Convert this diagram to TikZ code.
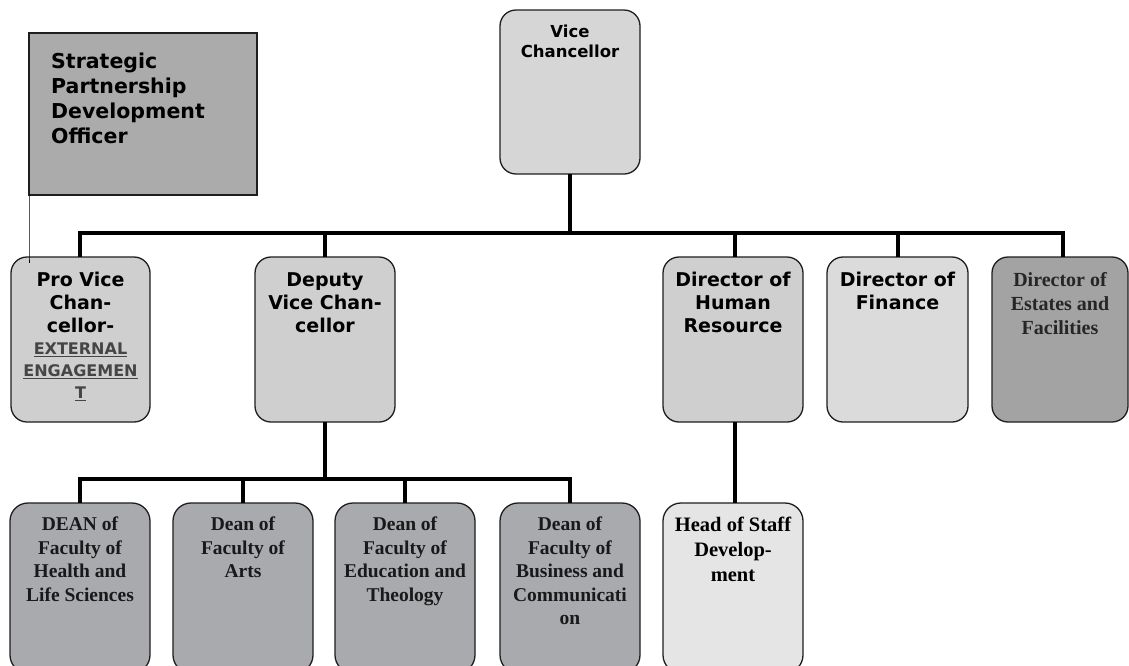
\documentclass[tikz,border=0pt]{standalone}
\usepackage{fontspec}
\newfontfamily\vsans{DejaVu Sans}
\newfontfamily\tms{Liberation Serif}
\definecolor{cVC}{HTML}{D6D6D6}
\definecolor{cStrat}{HTML}{ABABAB}
\definecolor{cRow}{HTML}{CFCFCF}
\definecolor{cFin}{HTML}{DBDBDB}
\definecolor{cEst}{HTML}{A3A3A3}
\definecolor{cDean}{HTML}{A9AAAE}
\definecolor{cHead}{HTML}{E5E5E5}
\definecolor{cEdge}{HTML}{1E1E1E}
\definecolor{cUnder}{HTML}{454545}
\tikzset{
  box/.style={draw=cEdge, line width=1.3pt, rounded corners=16pt, anchor=north west, inner sep=0pt, outer sep=0pt},
  sqbox/.style={draw=cEdge, line width=1.3pt, anchor=north west, inner sep=0pt, outer sep=0pt},
  conn/.style={line width=4pt, black},
  thin/.style={line width=1pt, black},
  sanslbl/.style={anchor=north, inner sep=0pt, align=center, font=\vsans\bfseries\fontsize{19}{23}\selectfont},
  seriflbl/.style={anchor=north, inner sep=0pt, align=center, font=\tms\bfseries\fontsize{20}{24}\selectfont},
  deanlbl/.style={anchor=north, inner sep=0pt, align=center, font=\tms\bfseries\fontsize{19.5}{23.5}\selectfont, text=black!90},
}
\begin{document}
\begin{tikzpicture}[x=1pt, y=-1pt]
\useasboundingbox (0,0) rectangle (1129,665);
\clip (0,0) rectangle (1129,665);
\fill[white] (0,0) rectangle (1129,665);

\coordinate (barL) at (80,233);
\coordinate (barR) at (1063,233);
\coordinate (dbarL) at (80,479);
\coordinate (dbarR) at (570,479);

% boxes
\node[box, fill=cVC, minimum width=140pt, minimum height=164pt] (vc) at (500,10) {};
\node[sqbox, fill=cStrat, minimum width=228pt, minimum height=162pt] (sp) at (29,33) {};

\node[box, fill=cRow, minimum width=139pt, minimum height=165pt] (pvc) at (11,257) {};
\node[box, fill=cRow, minimum width=140pt, minimum height=165pt] (dvc) at (255,257) {};
\node[box, fill=cRow, minimum width=140pt, minimum height=165pt] (dhr) at (663,257) {};
\node[box, fill=cFin, minimum width=141pt, minimum height=165pt] (dfin) at (827,257) {};
\node[box, fill=cEst, minimum width=136pt, minimum height=165pt] (dest) at (992,257) {};

\node[box, fill=cDean, rounded corners=18pt, minimum width=140pt, minimum height=170pt] (d1) at (10,503) {};
\node[box, fill=cDean, rounded corners=18pt, minimum width=140pt, minimum height=170pt] (d2) at (173,503) {};
\node[box, fill=cDean, rounded corners=18pt, minimum width=140pt, minimum height=170pt] (d3) at (335,503) {};
\node[box, fill=cDean, rounded corners=18pt, minimum width=140pt, minimum height=170pt] (d4) at (500,503) {};
\node[box, fill=cHead, rounded corners=18pt, minimum width=140pt, minimum height=170pt] (hsd) at (663,503) {};

% connectors
\draw[conn] (vc.south) -- (vc.south |- barR);
\draw[conn, line cap=rect] (barL) -- (barR);
\draw[conn] (barL) -- (barL |- pvc.north);
\draw[conn] (dvc.north |- barL) -- (dvc.north);
\draw[conn] (735,233) -- (735,257);
\draw[conn] (898,233) -- (898,257);
\draw[conn] (barR) -- (barR |- dest.north);
\draw[thin] (sp.south west) -- (sp.south west |- pvc.north) -- ++(0,6);

\draw[conn] (dvc.south) -- (dvc.south |- dbarL);
\draw[conn, line cap=rect] (dbarL) -- (dbarR);
\draw[conn] (dbarL) -- (dbarL |- d1.north);
\draw[conn] (d2.north |- dbarL) -- (d2.north);
\draw[conn] (d3.north |- dbarL) -- (d3.north);
\draw[conn] (dbarR) -- (dbarR |- d4.north);
\draw[conn] (735,422) -- (735,503);

% labels
\node[sanslbl, font=\vsans\bfseries\fontsize{16.5}{20}\selectfont] (vct) at ([yshift=-15pt]vc.north) {Vice\\Chancellor};
\node[anchor=north west, inner sep=0pt, align=left, font=\vsans\bfseries\fontsize{20.5}{25}\selectfont] (spt) at (51,53) {Strategic\\Partnership\\Development\\Officer};

\node[sanslbl] (pvct) at ([yshift=-15pt]pvc.north) {Pro Vice\\Chan-\\cellor-\\[-1pt]
  {\color{cUnder}\fontsize{16}{22}\selectfont\underline{EXTERNAL}}\\[-1pt]
  {\color{cUnder}\fontsize{16}{22}\selectfont\underline{ENGAGEMEN}}\\[-1pt]
  {\color{cUnder}\fontsize{16}{22}\selectfont\underline{T}}};
\node[sanslbl] (dvct) at ([yshift=-15pt]dvc.north) {Deputy\\Vice Chan-\\cellor};
\node[sanslbl] (dhrt) at ([yshift=-15pt]dhr.north) {Director of\\Human\\Resource};
\node[sanslbl] (dfint) at ([yshift=-15pt]dfin.north) {Director of\\Finance};
\node[seriflbl, text=black!85] (destt) at ([yshift=-15pt]dest.north) {Director of\\Estates and\\Facilities};

\node[deanlbl] (d1t) at ([yshift=-14pt]d1.north) {DEAN of\\Faculty of\\Health and\\Life Sciences};
\node[deanlbl] (d2t) at ([yshift=-14pt]d2.north) {Dean of\\Faculty of\\Arts};
\node[deanlbl] (d3t) at ([yshift=-14pt]d3.north) {Dean of\\Faculty of\\Education and\\Theology};
\node[deanlbl] (d4t) at ([yshift=-14pt]d4.north) {Dean of\\Faculty of\\Business and\\Communicati\\on};
\node[seriflbl, font=\tms\bfseries\fontsize{20.5}{25}\selectfont] (hsdt) at ([yshift=-14pt]hsd.north) {Head of Staff\\Develop-\\ment};
\end{tikzpicture}
\end{document}
